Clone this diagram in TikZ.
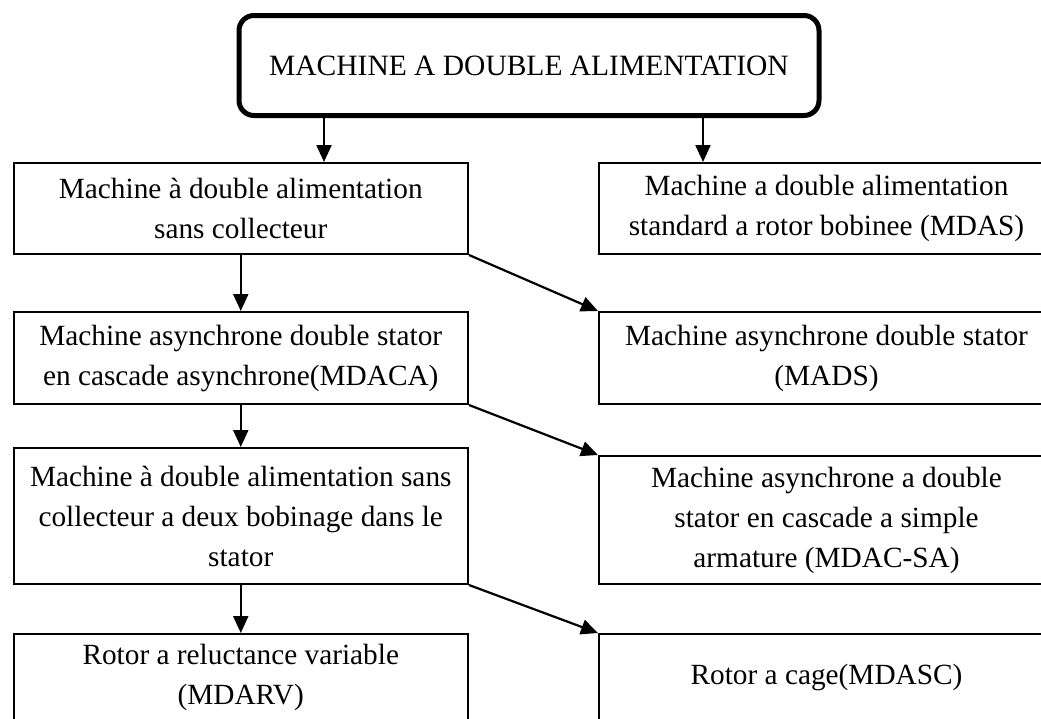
\documentclass[tikz,border=0pt]{standalone}
\usepackage{fontspec}
\setmainfont{Liberation Serif}
\usetikzlibrary{arrows.meta,positioning}
\begin{document}
\begin{tikzpicture}[x=1pt,y=-1pt,
  box/.style={draw,line width=2pt,rectangle,inner sep=0pt,align=center,anchor=north west,
    font=\fontsize{29.3}{40}\selectfont},
  topbox/.style={draw,line width=5pt,rounded corners=15pt,rectangle,inner sep=0pt,align=center,
    font=\fontsize{29.5}{40}\selectfont,minimum width=580pt,minimum height=100pt},
  arr/.style={line width=2.2pt,-{Triangle[length=17pt,width=15pt]}}
]
\useasboundingbox (0,0) rectangle (1041,718);
\clip (0,0) rectangle (1041,718);
\node[topbox] (top) at (529,65.5) {MACHINE A DOUBLE ALIMENTATION};
\node[box,minimum width=454.5pt,minimum height=91pt] (r1l) at (12.5,162) {Machine à double alimentation\\sans collecteur};
\node[box,minimum width=455pt,minimum height=91pt] (r1r) at (598,162) {Machine a double alimentation\\standard a rotor bobinee (MDAS)};
\node[box,minimum width=454.5pt,minimum height=92pt] (r2l) at (12.5,311) {Machine asynchrone double stator\\en cascade asynchrone(MDACA)};
\node[box,minimum width=455pt,minimum height=92pt] (r2r) at (598,311) {Machine asynchrone double stator\\(MADS)};
\node[box,minimum width=454.5pt,minimum height=136pt] (r3l) at (12.5,447) {Machine à double alimentation sans\\collecteur a deux bobinage dans le\\stator};
\node[box,minimum width=455pt,minimum height=128pt] (r3r) at (598,455) {Machine asynchrone a double\\stator en cascade a simple\\armature (MDAC-SA)};
\node[box,minimum width=454.5pt,minimum height=87pt] (r4l) at (12.5,633) {Rotor a reluctance variable\\(MDARV)};
\node[box,minimum width=455pt,minimum height=87pt] (r4r) at (598,633) {Rotor a cage(MDASC)};
\coordinate (tl) at (324,0);
\coordinate (tr) at (703,0);
\draw[arr] (tl |- top.south) -- (tl |- r1l.north);
\draw[arr] (tr |- top.south) -- (tr |- r1r.north);
\draw[arr] (r1l.south) -- (r2l.north);
\draw[arr] (r2l.south) -- (r3l.north);
\draw[arr] (r3l.south) -- (r4l.north);
\draw[arr] (r1l.south east) -- (r2r.north west);
\draw[arr] (r2l.south east) -- (r3r.north west);
\draw[arr] (r3l.south east) -- (r4r.north west);
\end{tikzpicture}
\end{document}
